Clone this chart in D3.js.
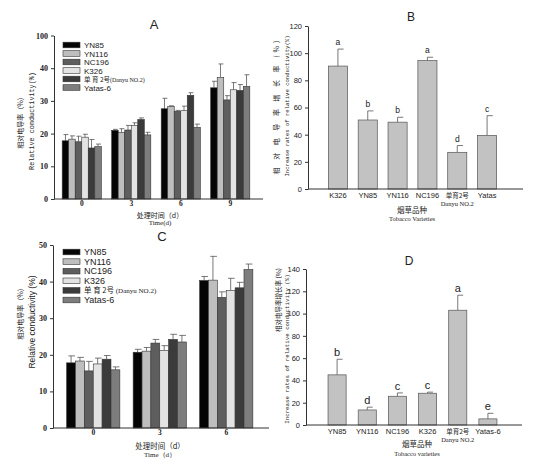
<!DOCTYPE html>
<html><head><meta charset="utf-8">
<script src="https://cdn.jsdelivr.net/npm/d3@7"></script>
<style>body{margin:0;background:#fff}svg{display:block}</style>
</head><body>
<svg id="c" width="535" height="459"></svg>
<script>
// ---------- data ----------
const varieties = ["YN85","YN116","NC196","K326","单育2号(Danyu NO.2)","Yatas-6"];
const legendA = ["YN85","YN116","NC196","K326","单 育 2号(Danyu NO.2)","Yatas-6"];
const legendC = ["YN85","YN116","NC196","K326","单 育 2号 (Danyu NO.2)","Yatas-6"];
const shades = ["#050505","#bebebe","#5e5e5e","#e3e3e3","#3b3b3b","#7d7d7d"];

const daysA = ["0","3","6","9"];
// mean per variety (rows) per day (cols)
const meanA = [
  [17.8, 21.0, 27.6, 34.0],
  [18.3, 20.4, 28.3, 37.2],
  [17.5, 21.1, 26.8, 30.3],
  [18.9, 22.5, 27.0, 33.4],
  [15.6, 24.3, 31.7, 33.2],
  [16.0, 19.6, 21.9, 34.4]
];
const sdA = [
  [1.9, 0.3, 3.2, 2.0],
  [1.0, 1.1, 0.2, 4.1],
  [1.7, 1.4, 0.3, 1.3],
  [0.9, 0.8, 1.4, 2.2],
  [2.6, 0.5, 0.8, 1.8],
  [0.8, 0.8, 1.0, 3.6]
];
const tickValsA = [0,10,20,30,40,50];
const tickLabsA = ["0","10","20","30","40","100"];

const daysC = ["0","3","6"];
const meanC = [
  [17.8, 20.7, 40.3],
  [18.3, 21.0, 40.4],
  [15.6, 23.2, 35.7],
  [17.5, 21.2, 37.6],
  [18.8, 24.2, 38.3],
  [15.9, 23.5, 43.3]
];
const sdC = [
  [1.9, 0.8, 1.1],
  [1.0, 1.0, 6.5],
  [2.6, 1.0, 1.5],
  [1.6, 1.3, 3.3],
  [1.0, 1.4, 1.5],
  [0.8, 1.8, 1.5]
];
const tickValsC = [0,10,20,30,40,50];

const catsB = ["K326","YN85","YN116","NC196","单育2号|Danyu NO.2","Yatas"];
const meanB = [90.5, 50.8, 49.2, 94.5, 27.0, 39.5];
const sdB   = [12.5, 6.7, 3.6, 2.5, 5.0, 14.5];
const letB  = ["a","b","b","a","d","c"];
const tickValsB = [0,20,40,60,80,100,120];

const catsD = ["YN85","YN116","NC196","K326","单育2号|Danyu NO.2","Yatas-6"];
const meanD = [45.0, 13.5, 25.8, 28.5, 103.0, 5.5];
const sdD   = [14.0, 2.5, 3.0, 1.0, 13.5, 5.0];
const letD  = ["b","d","c","c","a","e"];
const tickValsD = [0,20,40,60,80,100,120,140];

// ---------- drawing ----------
const svg = d3.select("#c");
svg.append("rect").attr("width",535).attr("height",459).attr("fill","#fff");
const SERIF = "'Liberation Serif','DejaVu Serif',serif";
const SANS = "'Liberation Sans',Arial,sans-serif";
const MONO = "'Liberation Mono','DejaVu Sans Mono',monospace";
const CJK = "'Noto Sans CJK SC',sans-serif";

function styleAxis(g, font, size, weight){
  g.select(".domain").attr("stroke","#333").attr("stroke-width",1);
  g.selectAll(".tick line").attr("stroke","#333");
  g.selectAll(".tick text").attr("font-family",font).attr("font-size",size)
    .attr("font-weight",weight).attr("fill","#222");
}

function grouped(opt){
  const y = d3.scaleLinear().domain([0, opt.ymax]).range([opt.y0, opt.y1]);
  const x0 = d3.scaleBand().domain(opt.groups).range(opt.xr)
    .paddingInner(opt.pad).paddingOuter(opt.pad/2);
  const x1 = d3.scaleBand().domain(varieties).range([0, x0.bandwidth()]);
  const g = svg.append("g");
  varieties.forEach((v,i)=>{
    opt.groups.forEach((d,j)=>{
      const m = opt.mean[i][j], s = opt.sd[i][j];
      const bx = x0(d)+x1(v), bw = x1.bandwidth();
      const cx = bx + bw/2;
      g.append("line").attr("x1",cx).attr("x2",cx).attr("y1",y(m)).attr("y2",y(m+s))
        .attr("stroke","#555").attr("stroke-width",0.8);
      g.append("line").attr("x1",cx-bw*0.3).attr("x2",cx+bw*0.45).attr("y1",y(m+s)).attr("y2",y(m+s))
        .attr("stroke","#555").attr("stroke-width",0.8);
      g.append("rect").attr("x",bx).attr("y",y(m)).attr("width",bw).attr("height",y(0)-y(m))
        .attr("fill",shades[i]).attr("stroke","#333").attr("stroke-width",0.6);
    });
  });
  const ax = svg.append("g").attr("transform",`translate(${opt.xAxis[0]},0)`)
    .call(d3.axisLeft(y).tickValues(opt.ticks).tickFormat((d,k)=>opt.tickLabs? opt.tickLabs[k]: d).tickSize(3).tickSizeOuter(0));
  styleAxis(ax, SERIF, 8, "bold");
  svg.append("line").attr("x1",opt.xAxis[0]).attr("x2",opt.xAxis[1]).attr("y1",y(0)).attr("y2",y(0))
    .attr("stroke","#333").attr("stroke-width",1);
  const xa = svg.append("g").attr("transform",`translate(0,${y(0)})`)
    .call(d3.axisBottom(x0).tickSize(0).tickPadding(1.5));
  xa.select(".domain").remove();
  styleAxis(xa, SERIF, 7.5, "bold");
  const lg = svg.append("g");
  opt.legend.forEach((t,i)=>{
    const ly = opt.legY + i*opt.legStep;
    lg.append("rect").attr("x",opt.legX).attr("y",ly-2.8).attr("width",17).attr("height",5.6)
      .attr("fill",shades[i]).attr("stroke","#333").attr("stroke-width",0.6);
    const tx = lg.append("text").attr("x",opt.legX+21).attr("y",ly+3)
      .attr("font-family",SANS).attr("font-size",opt.legSize).attr("fill","#222");
    const m = t.match(/^(.*?)(\s?\(Danyu NO\.2\))$/);
    if(m){
      tx.append("tspan").attr("font-family",CJK).attr("font-size",opt.legSize-1.5).text(m[1]);
      tx.append("tspan").attr("font-family",SERIF).attr("font-size",opt.legSize-2).text(m[2]);
    } else tx.text(t);
  });
  return y;
}

function single(opt){
  const y = d3.scaleLinear().domain([0, opt.ymax]).range([opt.y0, opt.y1]);
  const x = d3.scaleBand().domain(opt.cats).range(opt.xr).paddingInner(opt.pad).paddingOuter(opt.pad/2);
  const g = svg.append("g");
  opt.cats.forEach((c,i)=>{
    const m = opt.mean[i], s = opt.sd[i];
    const bx = x(c), bw = x.bandwidth(), cx = bx+bw/2;
    g.append("line").attr("x1",cx).attr("x2",cx).attr("y1",y(m)).attr("y2",y(m+s))
      .attr("stroke","#555").attr("stroke-width",0.8);
    g.append("line").attr("x1",cx).attr("x2",cx+bw*0.3).attr("y1",y(m+s)).attr("y2",y(m+s))
      .attr("stroke","#555").attr("stroke-width",0.8);
    g.append("rect").attr("x",bx).attr("y",y(m)).attr("width",bw).attr("height",y(0)-y(m))
      .attr("fill","#c2c2c2").attr("stroke","#555").attr("stroke-width",0.7);
    g.append("text").attr("x",cx).attr("y",y(m+s)-opt.letGap).attr("text-anchor","middle")
      .attr("font-family",SANS).attr("font-size",opt.letSize).attr("fill","#222").text(opt.letters[i]);
  });
  const ax = svg.append("g").attr("transform",`translate(${opt.xAxis[0]},0)`)
    .call(d3.axisLeft(y).tickValues(opt.ticks).tickSize(3).tickSizeOuter(0));
  styleAxis(ax, SANS, 7.5, "normal");
  svg.append("line").attr("x1",opt.xAxis[0]).attr("x2",opt.xAxis[1]).attr("y1",y(0)).attr("y2",y(0))
    .attr("stroke","#333").attr("stroke-width",1);
  const xa = svg.append("g").attr("transform",`translate(0,${y(0)})`)
    .call(d3.axisBottom(x).tickSize(0).tickFormat(""));
  xa.select(".domain").remove();
  xa.selectAll(".tick").each(function(d){
    const parts = d.split("|");
    const t = d3.select(this);
    t.append("text").attr("y",9).attr("text-anchor","middle")
      .attr("font-family", parts.length>1? CJK: SANS).attr("font-size", parts.length>1?6.5:7.5)
      .attr("fill","#222").text(parts[0]);
    if(parts.length>1) t.append("text").attr("y",16.5).attr("text-anchor","middle")
      .attr("font-family",SERIF).attr("font-size",6.5).attr("fill","#222").text(parts[1]);
  });
  return y;
}

function txt(x,y,s,font,size,opts={}){
  const t = svg.append("text").attr("x",x).attr("y",y).attr("text-anchor","middle")
    .attr("font-family",font).attr("font-size",size).attr("fill",opts.fill||"#222").text(s);
  if(opts.rot) t.attr("transform",`rotate(-90,${x},${y})`);
  if(opts.ls) t.attr("letter-spacing",opts.ls);
  return t;
}

// Panel A
grouped({groups:daysA, mean:meanA, sd:sdA, ymax:50, y0:199, y1:35.5, xr:[57,255], pad:0.21,
  xAxis:[54,263], ticks:tickValsA, tickLabs:tickLabsA, legend:legendA, legX:63, legY:45, legStep:8.5, legSize:8});
txt(154,29,"A",SANS,13);
txt(23,121,"相对电导率（%）",CJK,7,{rot:true});
txt(34,121,"Relative conductivity(%)",MONO,6.8,{rot:true});
txt(160,217.5,"处理时间（d）",CJK,7);
txt(160,225,"Time(d)",SERIF,7);

// Panel B
single({cats:catsB, mean:meanB, sd:sdB, letters:letB, ymax:120, y0:189, y1:26, xr:[323,502], pad:0.36,
  xAxis:[308,523], ticks:tickValsB, letGap:4, letSize:8.5});
txt(411,21,"B",SANS,12);
txt(279,106,"相 对 电 导 率 增 长 率 (%)",CJK,7,{rot:true, ls:3});
txt(289,106,"Increase rates of relative conductivity(%)",MONO,5.6,{rot:true});
txt(412,213,"烟草品种",CJK,7.5);
txt(412,221,"Tobacco Varieties",SERIF,6.5);

// Panel C
grouped({groups:daysC, mean:meanC, sd:sdC, ymax:50, y0:428, y1:245, xr:[60,259.5], pad:0.2,
  xAxis:[53,269], ticks:tickValsC, legend:legendC, legX:63, legY:252, legStep:9.6, legSize:9});
txt(162,241,"C",SANS,13);
txt(23,312,"相对电导率（%）",CJK,7,{rot:true});
txt(35,322,"Relative conductivity (%)",SANS,8.5,{rot:true});
txt(160,448.5,"处理时间（d）",CJK,7.5);
txt(160,457,"Time（d）",SERIF,7);

// Panel D
single({cats:catsD, mean:meanD, sd:sdD, letters:letD, ymax:140, y0:425, y1:269, xr:[322,503], pad:0.4,
  xAxis:[306,522], ticks:tickValsD, letGap:3, letSize:11});
txt(409,265,"D",SANS,12);
txt(281,300,"相对电导率增长率 (%)",CJK,6.5,{rot:true});
txt(289,349,"Increase rates of relative conductivity (%)",MONO,5.8,{rot:true});
txt(417,447,"烟草品种",CJK,7.5);
txt(417,456,"Tobacco varieties",SERIF,6.5);
</script>
</body></html>
